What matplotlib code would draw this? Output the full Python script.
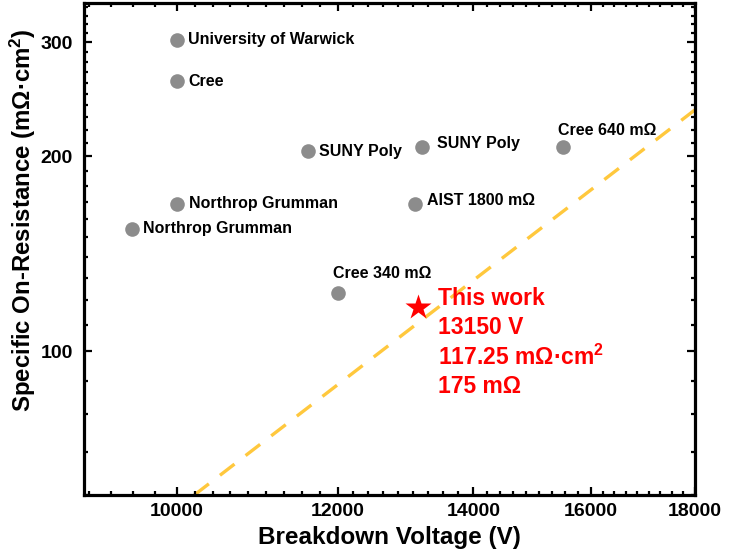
import numpy as np
import matplotlib
matplotlib.use("Agg")
import matplotlib.pyplot as plt
from matplotlib.ticker import FixedLocator, NullFormatter

plt.rcParams['font.family'] = ['Liberation Sans', 'DejaVu Sans']
plt.rcParams['font.weight'] = 'bold'
plt.rcParams['mathtext.fontset'] = 'custom'
plt.rcParams['mathtext.rm'] = 'Liberation Sans:bold'
plt.rcParams['mathtext.bf'] = 'Liberation Sans:bold'
plt.rcParams['mathtext.it'] = 'Liberation Sans:bold'
plt.rcParams['mathtext.default'] = 'rm'

# reported devices (breakdown voltage V, specific on-resistance mOhm.cm2)
labels = ['University of Warwick', 'Cree', 'SUNY Poly', 'Northrop Grumman',
          'Northrop Grumman', 'SUNY Poly', 'Cree 640 mΩ', 'AIST 1800 mΩ',
          'Cree 340 mΩ']
volts = [10000, 10000, 11600, 10000, 9500, 13200, 15500, 13100, 12000]
ron = [303, 261, 203.5, 169, 154.5, 207, 207, 169, 123]
# label offsets in points (dx, dy)
offs = [(8, 0), (8, 0), (8, 0), (9, 0), (8, 0), (11, 2), (-4, 11.5), (9, 2), (-3, 14)]

# this work
this_v = 13150
this_r = 117.25

# limit line
line_v = [10200, 18000]
line_r = [60, 236]

xticks = [10000, 12000, 14000, 16000, 18000]
yticks = [100, 200, 300]

fig = plt.figure(figsize=(7.3, 5.59), dpi=100)
ax = fig.add_axes([84/730, 1-495/559, 611/730, 492/559])
ax.set_xscale('log')
ax.set_yscale('log')

ax.plot(line_v, line_r, color='#FFC83D', lw=2.4, linestyle=(0, (5.5, 4.2)),
        solid_capstyle='butt', dash_capstyle='butt', zorder=1)
ax.plot(volts, ron, 'o', color='#8C8C8C', ms=10.5, mec='none', zorder=3)
for lab, v, r, (dx, dy) in zip(labels, volts, ron, offs):
    ax.annotate(lab, (v, r), xytext=(dx, dy), textcoords='offset points',
                ha='left', va='center', fontsize=11.5, fontweight='bold')

ax.plot([this_v], [this_r], '*', color='#FF0000', ms=19, mec='none', zorder=4)
ax.annotate('This work\n13150 V\n117.25 mΩ·cm$^{2}$\n175 mΩ', (this_v, this_r),
            xytext=(14.5, 14), textcoords='offset points', ha='left', va='top',
            color='#FF0000', fontsize=16.5, fontweight='bold', linespacing=1.3)

ax.set_xlim(9000, 18000)
ax.set_ylim(60, 345)

ax.xaxis.set_major_locator(FixedLocator(xticks))
ax.set_xticklabels([str(t) for t in xticks])
# minor ticks: 8 evenly spaced (in log) between majors
edges = [8000] + xticks
mx = []
for a, b in zip(edges[:-1], edges[1:]):
    mx += list(np.logspace(np.log10(a), np.log10(b), 10)[1:-1])
ax.xaxis.set_minor_locator(FixedLocator(mx))
ax.xaxis.set_minor_formatter(NullFormatter())

ax.yaxis.set_major_locator(FixedLocator(yticks))
ax.set_yticklabels([str(t) for t in yticks])
ax.yaxis.set_minor_locator(FixedLocator([v for v in range(60, 350, 10) if v not in yticks]))
ax.yaxis.set_minor_formatter(NullFormatter())

for s in ax.spines.values():
    s.set_linewidth(2.3)
ax.tick_params(which='both', direction='in', top=True, right=True, width=1.6)
ax.tick_params(which='major', length=6, labelsize=14, pad=6)
ax.tick_params(axis='y', which='major', pad=8)
ax.tick_params(which='minor', length=3)
for t in ax.get_xticklabels() + ax.get_yticklabels():
    t.set_fontweight('bold')

ax.set_xlabel('Breakdown Voltage (V)', fontsize=17.5, fontweight='bold', labelpad=4)
ax.set_ylabel('Specific On-Resistance (mΩ·cm$^{2}$)', fontsize=17.3, fontweight='bold')
ax.yaxis.set_label_coords(-0.076, 0.559)

fig.savefig('out.png', dpi=100)
